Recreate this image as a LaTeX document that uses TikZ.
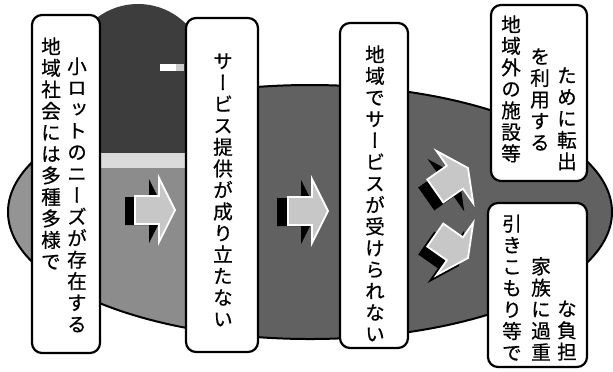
\documentclass[tikz,border=0pt]{standalone}
\usepackage{fontspec}
\newfontfamily\jpfont[RawFeature=+vert,FakeBold=0.6]{Noto Sans CJK JP}
\usetikzlibrary{fit}
\makeatletter
% stack the characters of #1 one under another
\newcommand\tate[1]{\vtop{\baselineskip=10.75pt\lineskiplimit=-\maxdimen\lineskip=0pt
  \@tfor\tatechar:=#1\do{\hbox to 1em{\hss\tatechar\hss}}}}
\makeatother
\tikzset{
  box/.style={draw=black,line width=1.1pt,fill=white,rounded corners=5pt,inner sep=0pt},
  col/.style={inner sep=0pt,anchor=north,font=\jpfont\fontsize{9.8pt}{10.75pt}\selectfont},
  face/.style={fill=black!22,draw=white,line width=.9pt,line join=miter},
  side/.style={fill=black},
}
\begin{document}
\begin{tikzpicture}[x=0.5pt,y=-0.5pt]
\useasboundingbox (0,0) rectangle (613,371);
% the big disc
\fill[black!62] (310,212) ellipse [x radius=302,y radius=127];
\begin{scope}
 \clip (310,212) ellipse [x radius=302,y radius=127];
 \fill[black!42] (0,90) rectangle (33,340);
 \fill[black!45] (100,168) rectangle (186,360);
\end{scope}
\draw[line width=1pt] (310,212) ellipse [x radius=302,y radius=127];
% dome at the back
\fill[black!76] (138,72) circle [radius=68];
\fill[black!76] (70,72) rectangle (206,153);
\fill[black!14] (100,153) rectangle (186,168);
\fill[white] (160,64) rectangle (176,71);
\fill[black!20] (176,64) rectangle (184,71);
% block arrows
\foreach \tx/\ty/\ang/\bx/\by in {175/210/0/-10/1,328/211/0/-11/1,468/168/35/-9/8,468/258/-35/-9/8}{
 \begin{scope}[shift={(\tx+\bx,\ty+\by)},rotate=\ang]
  \fill[side] (0,0) -- (-16,-32) -- (-16,-14) -- (-40,-14) -- (-40,14) -- (-16,14) -- (-16,32) -- cycle;
 \end{scope}
 \begin{scope}[shift={(\tx,\ty)},rotate=\ang]
  \draw[face] (0,0) -- (-16,-32) -- (-16,-14) -- (-40,-14) -- (-40,14) -- (-16,14) -- (-16,32) -- cycle;
 \end{scope}}
% boxes
\node[box,fit={(32,15) (100,353)}] (b1) {};
\node[box,fit={(186,18) (258,352)}] (b2) {};
\node[box,fit={(340,23) (408,348)}] (b3) {};
\node[box,fit={(491,5) (587,181)}] (b4) {};
\node[box,fit={(488,203) (587,367)}] (b5) {};
% texts
\node[col] (t1a) at (51,37) {\tate{地域社会には多種多様で}};
\node[col] (t1b) at (77,57) {\tate{小ロットのニーズが存在する}};
\node[col] (t2) at (223,53) {\tate{サービス提供が成り立たない}};
\node[col] (t3) at (375,45) {\tate{地域でサービスが受けられない}};
\node[col] (t4a) at (511,15) {\tate{地域外の施設等}};
\node[col] (t4b) at (540,48) {\tate{を利用する}};
\node[col] (t4c) at (567,67) {\tate{ために転出}};
\node[col,anchor=south] (t5a) at (512,361) {\tate{引きこもり等で}};
\node[col,anchor=south] (t5b) at (541,361) {\tate{家族に過重}};
\node[col,anchor=south] (t5c) at (567,361) {\tate{な負担}};
\end{tikzpicture}
\end{document}
